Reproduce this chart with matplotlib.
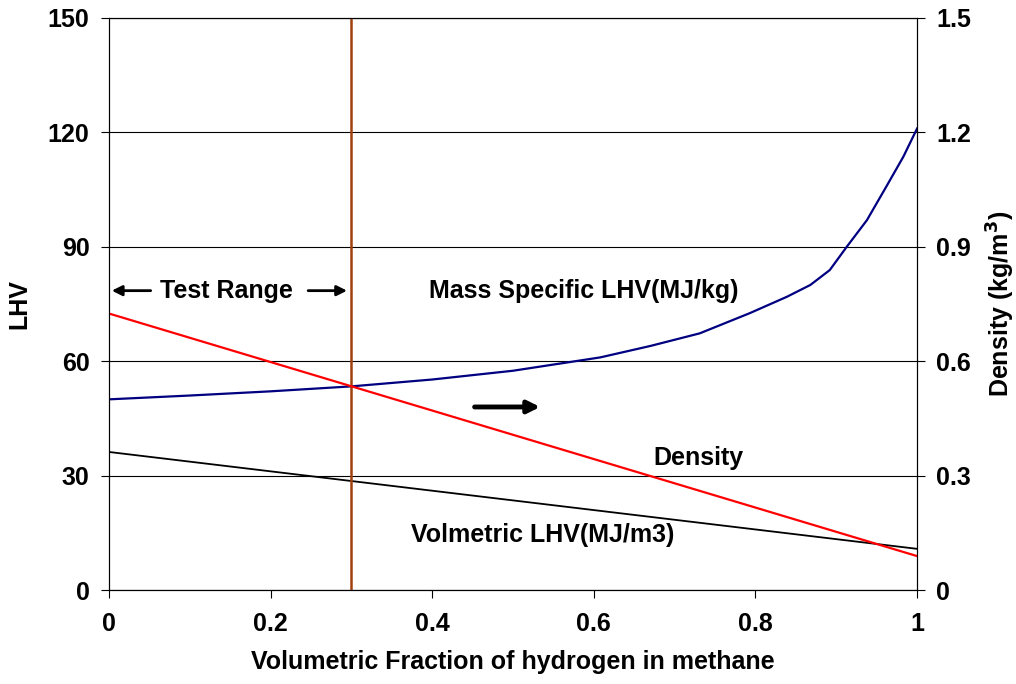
import matplotlib.pyplot as plt

plt.rcParams['font.family'] = ['Liberation Sans', 'DejaVu Sans']
plt.rcParams['font.weight'] = 'bold'

# mass specific LHV (MJ/kg)
frac_mass = [0, 0.1, 0.2, 0.3, 0.4, 0.5, 0.608, 0.67, 0.731, 0.793, 0.839,
             0.868, 0.892, 0.913, 0.938, 0.962, 0.983, 1.0]
lhv_mass = [50, 51.0, 52.1, 53.4, 55.2, 57.5, 61.0, 64.0, 67.3, 72.6, 76.9,
            80.0, 83.9, 90.0, 97.0, 105.8, 113.6, 121]

# volumetric LHV (MJ/m3), black line
frac_vol = [0, 1.0]
lhv_vol = [36.2, 10.8]

# density (kg/m3), red line on right axis
frac_den = [0, 1.0]
density = [0.725, 0.089]

test_limit = 0.3

fig = plt.figure(figsize=(10.16, 6.84), dpi=100)
ax = fig.add_axes([0.1073, 0.1374, 0.7953, 0.8363])
ax2 = ax.twinx()

ax.plot(frac_mass, lhv_mass, color='#000080', lw=1.6)
ax.plot(frac_vol, lhv_vol, color='black', lw=1.3)
ax2.plot(frac_den, density, color='red', lw=1.6)
ax.axvline(test_limit, color='#A0410D', lw=1.8, zorder=5)

ax.set_xlim(0, 1)
ax.set_ylim(0, 150)
ax2.set_ylim(0, 1.5)
ax.set_xticks([0, 0.2, 0.4, 0.6, 0.8, 1])
ax.set_xticklabels(['0', '0.2', '0.4', '0.6', '0.8', '1'])
ax.set_yticks([0, 30, 60, 90, 120, 150])
ax2.set_yticks([0, 0.3, 0.6, 0.9, 1.2, 1.5])
ax2.set_yticklabels(['0', '0.3', '0.6', '0.9', '1.2', '1.5'])

ax.yaxis.grid(True, color='black', lw=0.8)
ax.set_axisbelow(True)
for a in (ax, ax2):
    a.tick_params(labelsize=18, direction='out', length=6, width=0.8, pad=8)
    for s in a.spines.values():
        s.set_linewidth(0.8)
ax.tick_params(axis='x', pad=10)

fs = 18
ax.set_xlabel('Volumetric Fraction of hydrogen in methane', fontsize=fs, fontweight='bold', labelpad=10)
ax.set_ylabel('LHV', fontsize=fs, fontweight='bold', labelpad=12)
ax2.set_ylabel('Density (kg/m$^\\mathbf{3}$)', fontsize=fs, fontweight='bold', labelpad=10)

# annotations
arrow_kw = dict(arrowstyle='-|>', color='black', lw=2, mutation_scale=15)
ax.annotate('', xy=(0.0, 78.5), xytext=(0.055, 78.5), arrowprops=arrow_kw)
ax.annotate('', xy=(0.298, 78.5), xytext=(0.243, 78.5), arrowprops=arrow_kw)
ax.text(0.145, 78.5, 'Test Range', fontsize=fs, fontweight='bold', ha='center', va='center')
ax.text(0.587, 78.5, 'Mass Specific LHV(MJ/kg)', fontsize=fs, fontweight='bold', ha='center', va='center')
ax.annotate('', xy=(0.537, 48), xytext=(0.449, 48),
            arrowprops=dict(arrowstyle='-|>', color='black', lw=3.5, mutation_scale=18))
ax.text(0.73, 34.5, 'Density', fontsize=fs, fontweight='bold', ha='center', va='center')
ax.text(0.537, 14.4, 'Volmetric LHV(MJ/m3)', fontsize=fs, fontweight='bold', ha='center', va='center')

fig.savefig('out.png', dpi=100)
